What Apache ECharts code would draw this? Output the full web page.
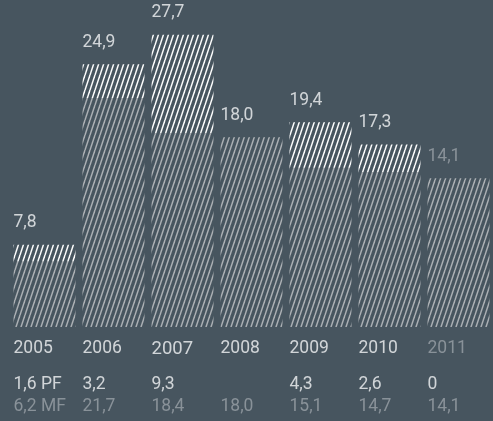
<!DOCTYPE html>
<html>
<head>
<meta charset="utf-8">
<script src="https://cdn.jsdelivr.net/npm/echarts@6/dist/echarts.min.js"></script>
<style>
  html, body { margin: 0; padding: 0; background: #47555f; }
  #chart { width: 493px; height: 421px; }
</style>
</head>
<body>
<div id="chart"></div>
<script>
// Yearly values: PF on top of MF, total printed above each bar
const years = ['2005', '2006', '2007', '2008', '2009', '2010', '2011'];
const pfValues = [1.6, 3.2, 9.3, null, 4.3, 2.6, 0];
const mfValues = [6.2, 21.7, 18.4, 18.0, 15.1, 14.7, 14.1];
const totals = [7.8, 24.9, 27.7, 18.0, 19.4, 17.3, 14.1];
const pfLabels = ['1,6 PF', '3,2', '9,3', '', '4,3', '2,6', '0'];
const mfLabels = ['6,2 MF', '21,7', '18,4', '18,0', '15,1', '14,7', '14,1'];
const mutedYear = '2011';
const largerYear = '2007';

const WHITE = '#f4f5f6';
const GREY = '#9aa1a7';
const FONT = 'Roboto, "Liberation Sans", sans-serif';
const SIZE = 17.5;

const fmt = v => v.toFixed(1).replace('.', ',');

// Diagonal stripe tile used as a repeating fill
function hatch(color, lineWidth) {
  const c = document.createElement('canvas');
  c.width = 5; c.height = 15;
  const ctx = c.getContext('2d');
  ctx.strokeStyle = color;
  ctx.lineWidth = lineWidth;
  for (const dx of [-5, 0, 5]) {
    ctx.beginPath();
    ctx.moveTo(dx, 15);
    ctx.lineTo(dx + 5, 0);
    ctx.stroke();
  }
  return c;
}

const pfFill = { image: hatch('#ffffff', 1.5), repeat: 'repeat' };
const mfFill = { image: hatch('#adb1b5', 1.5), repeat: 'repeat' };

const textColor = i => (years[i] === mutedYear ? GREY : WHITE);

// Text rows sitting under the bars, anchored at the base line
function rowSeries(texts, dy, colorFn, sizeFn) {
  return {
    type: 'scatter',
    symbolSize: 1,
    clip: false,
    silent: true,
    itemStyle: { color: 'rgba(0,0,0,0)' },
    data: years.map((y, i) => ({
      value: 0,
      label: { color: colorFn(i), fontSize: sizeFn ? sizeFn(i) : SIZE }
    })),
    label: {
      show: true,
      position: 'inside',
      align: 'left',
      verticalAlign: 'middle',
      offset: [-31, dy],
      fontFamily: FONT,
      fontSize: SIZE,
      formatter: p => texts[p.dataIndex]
    }
  };
}

const chart = echarts.init(document.getElementById('chart'), null, { renderer: 'canvas' });
chart.setOption({
  animation: false,
  backgroundColor: '#47555f',
  grid: { left: 10, right: -5, top: 0, bottom: 94 },
  xAxis: {
    type: 'category',
    data: years,
    show: false
  },
  yAxis: { type: 'value', min: 0, max: 31, show: false },
  series: [
    {
      name: 'MF',
      type: 'bar',
      stack: 'total',
      barWidth: 62,
      itemStyle: { color: mfFill },
      data: mfValues
    },
    {
      name: 'PF',
      type: 'bar',
      stack: 'total',
      barWidth: 62,
      itemStyle: { color: pfFill },
      data: pfValues
    },
    {
      name: 'Summe',
      type: 'scatter',
      symbolSize: 1,
      silent: true,
      itemStyle: { color: 'rgba(0,0,0,0)' },
      data: totals.map((v, i) => ({ value: v, label: { color: textColor(i) } })),
      label: {
        show: true,
        position: 'inside',
        align: 'left',
        verticalAlign: 'middle',
        offset: [-31, -22],
        fontFamily: FONT,
        fontSize: SIZE,
        formatter: p => fmt(totals[p.dataIndex])
      }
    },
    rowSeries(years, 22, textColor, i => (years[i] === largerYear ? SIZE + 1 : SIZE)),
    rowSeries(pfLabels, 58, () => WHITE),
    rowSeries(mfLabels, 80, () => GREY)
  ]
});
</script>
</body>
</html>
